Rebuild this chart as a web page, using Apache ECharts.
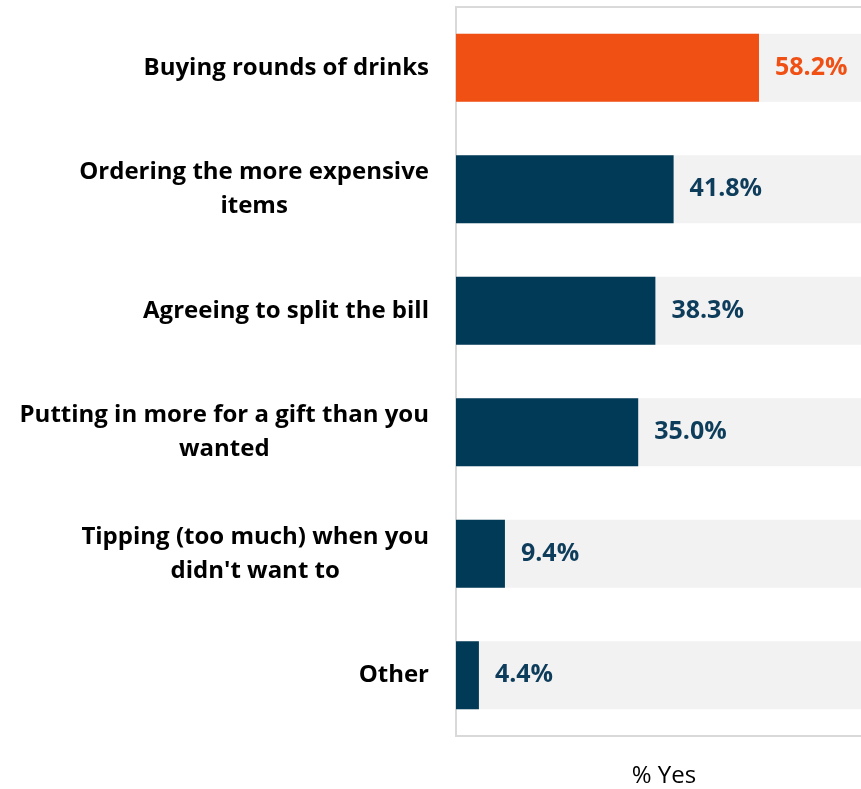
<!DOCTYPE html>
<html>
<head>
<meta charset="utf-8">
<script src="https://cdn.jsdelivr.net/npm/echarts@6/dist/echarts.min.js"></script>
<style>
  html, body { margin: 0; padding: 0; background: #fff; overflow: hidden; }
  #chart { width: 1000px; height: 789px; }
</style>
</head>
<body>
<div id="chart"></div>
<script>
// Ways people overspend when out with others
const categories = [
  'Buying rounds of drinks',
  'Ordering the more expensive\nitems',
  'Agreeing to split the bill',
  'Putting in more for a gift than you\nwanted',
  "Tipping (too much) when you\ndidn't want to",
  'Other'
];
const values = [58.2, 41.8, 38.3, 35.0, 9.4, 4.4];
const highlightIndex = 0;
const axisTitle = '% Yes';

const ORANGE = '#f05014';
const NAVY = '#003a57';
const FONT = '"Open Sans", sans-serif';

const chart = echarts.init(document.getElementById('chart'), null, { renderer: 'canvas' });

chart.setOption({
  animation: false,
  title: {
    text: axisTitle,
    left: 659,
    top: 759,
    textAlign: 'center',
    textStyle: { fontFamily: FONT, fontSize: 24, fontWeight: 'normal', color: '#000' }
  },
  grid: {
    left: 456,
    top: 7,
    width: 520.6,
    height: 729,
    show: true,
    borderColor: '#d9d9d9',
    borderWidth: 2,
    containLabel: false
  },
  xAxis: {
    type: 'value',
    min: 0,
    max: 100,
    axisLabel: { show: false },
    axisTick: { show: false },
    axisLine: { show: false },
    splitLine: { show: false }
  },
  yAxis: {
    type: 'category',
    inverse: true,
    data: categories,
    axisTick: { show: false },
    axisLine: { show: false },
    axisLabel: {
      margin: 27,
      align: 'right',
      formatter: function (v) {
        return v.split('\n').map(function (line) { return '{c|' + line + '}'; }).join('\n');
      },
      rich: {
        c: {
          align: 'center',
          fontFamily: FONT,
          fontSize: 24,
          fontWeight: 'bold',
          color: '#000',
          lineHeight: 34
        }
      }
    }
  },
  series: [{
    type: 'bar',
    data: values.map(function (v, i) {
      return {
        value: v,
        itemStyle: { color: i === highlightIndex ? ORANGE : NAVY },
        label: { color: i === highlightIndex ? ORANGE : '#0e3d5c' }
      };
    }),
    barWidth: 68,
    showBackground: true,
    backgroundStyle: { color: '#f2f2f2' },
    label: {
      show: true,
      position: 'right',
      distance: 16,
      fontFamily: FONT,
      fontSize: 25,
      fontWeight: 'bold',
      formatter: function (p) { return p.value.toFixed(1) + '%'; }
    }
  }]
});
</script>
</body>
</html>
